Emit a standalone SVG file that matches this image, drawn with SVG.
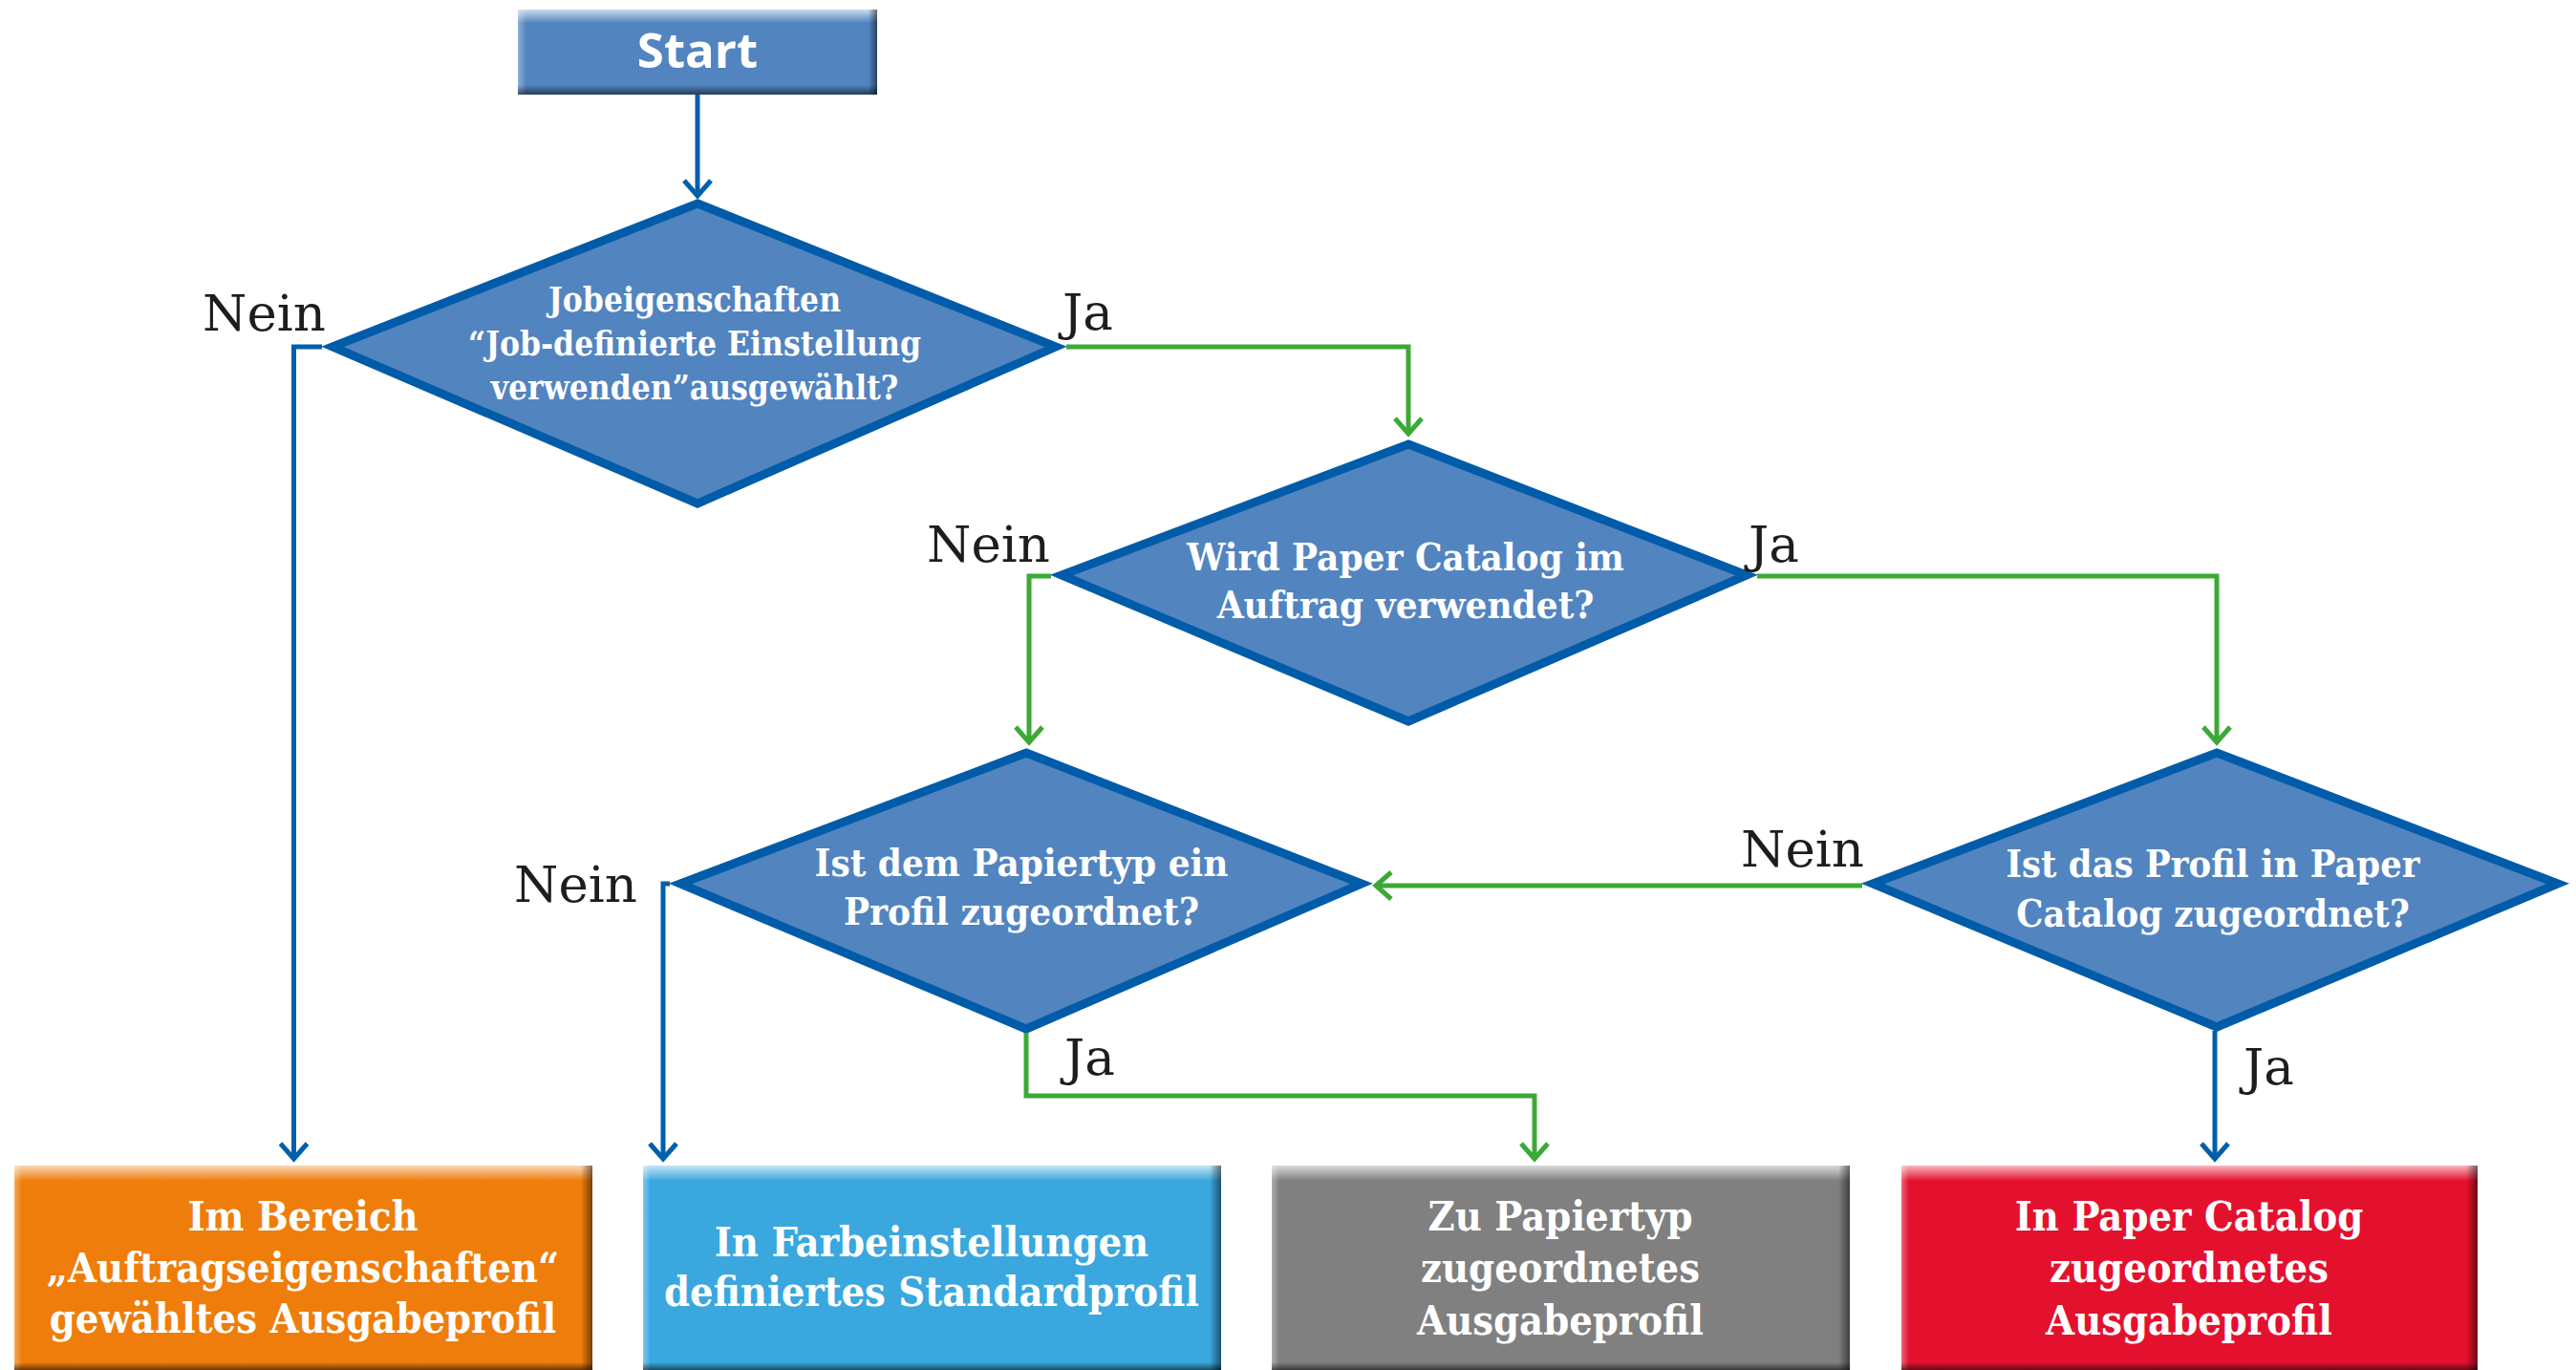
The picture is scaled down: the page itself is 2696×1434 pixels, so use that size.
<svg xmlns="http://www.w3.org/2000/svg" width="2696" height="1434" viewBox="0 0 2696 1434">
<defs>
<style>
.dia{fill:#5284C0;stroke:#005CA9;stroke-width:9;stroke-linejoin:miter;stroke-miterlimit:10}
.dt{font-family:"DejaVu Serif Condensed","DejaVu Serif",serif;font-weight:bold;fill:#fff;text-anchor:middle}
.bt{font-family:"DejaVu Serif Condensed","DejaVu Serif",serif;font-weight:bold;fill:#fff;text-anchor:middle;font-size:43px}
.lbl{font-family:"DejaVu Serif",serif;font-size:53px;fill:#1d1d1b}
.cb{fill:none;stroke:#005FAB;stroke-width:5}
.cg{fill:none;stroke:#3AAA35;stroke-width:5}
</style>
<linearGradient id="gTop" x1="0" y1="0" x2="0" y2="1"><stop offset="0" stop-color="#fff" stop-opacity="0.7"/><stop offset="1" stop-color="#fff" stop-opacity="0"/></linearGradient>
<linearGradient id="gLeft" x1="0" y1="0" x2="1" y2="0"><stop offset="0" stop-color="#fff" stop-opacity="0.35"/><stop offset="1" stop-color="#fff" stop-opacity="0"/></linearGradient>
<linearGradient id="gRight" x1="0" y1="0" x2="1" y2="0"><stop offset="0" stop-color="#000" stop-opacity="0"/><stop offset="1" stop-color="#000" stop-opacity="0.5"/></linearGradient>
<linearGradient id="gBot" x1="0" y1="0" x2="0" y2="1"><stop offset="0" stop-color="#000" stop-opacity="0"/><stop offset="1" stop-color="#000" stop-opacity="0.55"/></linearGradient>
<marker id="ab" markerUnits="userSpaceOnUse" viewBox="0 0 22 32" markerWidth="22" markerHeight="32" refX="18" refY="16" orient="auto"><path d="M2,2 L18,16 L2,30" fill="none" stroke="#005FAB" stroke-width="5"/></marker>
<marker id="ag" markerUnits="userSpaceOnUse" viewBox="0 0 22 32" markerWidth="22" markerHeight="32" refX="18" refY="16" orient="auto"><path d="M2,2 L18,16 L2,30" fill="none" stroke="#3AAA35" stroke-width="5"/></marker>
</defs>
<rect width="2696" height="1434" fill="#fff"/>

<g id="start">
<rect x="542" y="10" width="376" height="89" fill="#5284C0"/>
<rect x="542" y="10" width="376" height="14" fill="url(#gTop)"/>
<rect x="542" y="10" width="9" height="89" fill="url(#gLeft)"/>
<rect x="909" y="10" width="9" height="89" fill="url(#gRight)"/>
<rect x="542" y="89" width="376" height="10" fill="url(#gBot)"/>
<text x="730" y="71" font-family="'Open Sans','Liberation Sans',sans-serif" font-weight="bold" font-size="51" fill="#fff" text-anchor="middle">Start</text>
</g>

<g id="d1">
<polygon class="dia" points="730,213 1105,363 730,527 348,363"/>
<text class="dt" font-size="35" x="727" y="326">Jobeigenschaften</text>
<text class="dt" font-size="35" x="727" y="372">“Job-definierte Einstellung</text>
<text class="dt" font-size="35" x="727" y="418">verwenden”ausgewählt?</text>
</g>

<g id="d2">
<polygon class="dia" points="1474,465 1828,602 1474,755 1111,602"/>
<text class="dt" font-size="40" x="1471" y="597">Wird Paper Catalog im</text>
<text class="dt" font-size="40" x="1471" y="647">Auftrag verwendet?</text>
</g>

<g id="d3">
<polygon class="dia" points="1074,788 1425,925 1074,1077 712,925"/>
<text class="dt" font-size="40" x="1069" y="917">Ist dem Papiertyp ein</text>
<text class="dt" font-size="40" x="1069" y="968">Profil zugeordnet?</text>
</g>

<g id="d4">
<polygon class="dia" points="2320,788 2677,925 2320,1075 1960,925"/>
<text class="dt" font-size="39.5" x="2316" y="918">Ist das Profil in Paper</text>
<text class="dt" font-size="39.5" x="2316" y="970">Catalog zugeordnet?</text>
</g>

<g id="box-orange">
<rect x="15" y="1220" width="605" height="214" fill="#EF7D0B"/>
<rect x="15" y="1220" width="605" height="16" fill="url(#gTop)"/>
<rect x="15" y="1220" width="8" height="214" fill="url(#gLeft)"/>
<rect x="608" y="1220" width="12" height="214" fill="url(#gRight)"/>
<rect x="15" y="1426" width="605" height="8" fill="url(#gBot)"/>
<text class="bt" x="317" y="1288">Im Bereich</text>
<text class="bt" x="317" y="1342">„Auftragseigenschaften“</text>
<text class="bt" x="317" y="1395">gewähltes Ausgabeprofil</text>
</g>

<g id="box-blue">
<rect x="673" y="1220" width="605" height="214" fill="#3AA7DE"/>
<rect x="673" y="1220" width="605" height="16" fill="url(#gTop)"/>
<rect x="673" y="1220" width="8" height="214" fill="url(#gLeft)"/>
<rect x="1266" y="1220" width="12" height="214" fill="url(#gRight)"/>
<rect x="673" y="1426" width="605" height="8" fill="url(#gBot)"/>
<text class="bt" x="975" y="1315">In Farbeinstellungen</text>
<text class="bt" x="975" y="1367">definiertes Standardprofil</text>
</g>

<g id="box-gray">
<rect x="1331" y="1220" width="605" height="214" fill="#7F807F"/>
<rect x="1331" y="1220" width="605" height="16" fill="url(#gTop)"/>
<rect x="1331" y="1220" width="8" height="214" fill="url(#gLeft)"/>
<rect x="1924" y="1220" width="12" height="214" fill="url(#gRight)"/>
<rect x="1331" y="1426" width="605" height="8" fill="url(#gBot)"/>
<text class="bt" x="1633" y="1288">Zu Papiertyp</text>
<text class="bt" x="1633" y="1342">zugeordnetes</text>
<text class="bt" x="1633" y="1397">Ausgabeprofil</text>
</g>

<g id="box-red">
<rect x="1990" y="1220" width="603" height="214" fill="#E4112E"/>
<rect x="1990" y="1220" width="603" height="16" fill="url(#gTop)"/>
<rect x="1990" y="1220" width="8" height="214" fill="url(#gLeft)"/>
<rect x="2581" y="1220" width="12" height="214" fill="url(#gRight)"/>
<rect x="1990" y="1426" width="603" height="8" fill="url(#gBot)"/>
<text class="bt" x="2291" y="1288">In Paper Catalog</text>
<text class="bt" x="2291" y="1342">zugeordnetes</text>
<text class="bt" x="2291" y="1397">Ausgabeprofil</text>
</g>

<g id="connectors">
<path class="cb" d="M730,99 V205" marker-end="url(#ab)"/>
<path class="cb" d="M337,363 H307.5 V1213" marker-end="url(#ab)"/>
<path class="cg" d="M1116,363 H1474 V454" marker-end="url(#ag)"/>
<path class="cg" d="M1100,603 H1077 V777" marker-end="url(#ag)"/>
<path class="cg" d="M1839,603 H2320 V777" marker-end="url(#ag)"/>
<path class="cg" d="M1949,927 H1440" marker-end="url(#ag)"/>
<path class="cb" d="M701,925 H694 V1213" marker-end="url(#ab)"/>
<path class="cg" d="M1074,1081 V1147 H1606 V1213" marker-end="url(#ag)"/>
<path class="cb" d="M2318,1079 V1213" marker-end="url(#ab)"/>
</g>

<g id="labels">
<text class="lbl" x="212" y="346">Nein</text>
<text class="lbl" x="1112" y="345">Ja</text>
<text class="lbl" x="970" y="588">Nein</text>
<text class="lbl" x="1830" y="588">Ja</text>
<text class="lbl" x="538" y="944">Nein</text>
<text class="lbl" x="1822" y="907">Nein</text>
<text class="lbl" x="1114" y="1125">Ja</text>
<text class="lbl" x="2348" y="1135">Ja</text>
</g>
</svg>
